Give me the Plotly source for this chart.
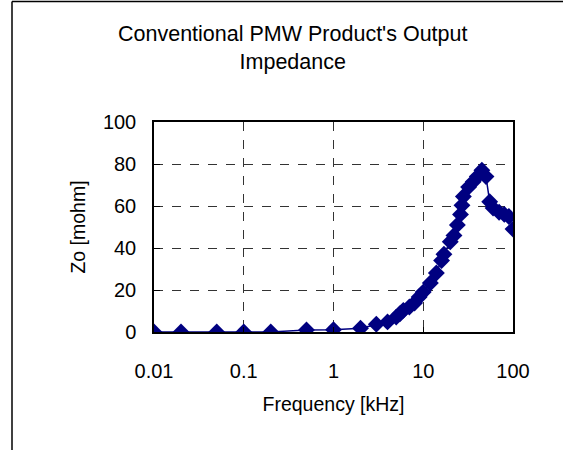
import plotly.graph_objects as go

freq_khz = [0.01, 0.02, 0.05, 0.1, 0.2, 0.5, 1, 2, 3, 4, 5, 5.5, 6, 7, 8, 9, 10,
            12, 14, 16, 17, 20, 22, 24, 26, 27, 28, 32, 36, 40, 45, 50, 55, 60,
            70, 80, 90, 100]
zo_mohm = [0, 0, 0, 0, 0, 1.0, 1.1, 1.8, 3.7, 4.8, 7.1, 8.7, 10.3, 11.9, 13.8, 16.7, 19.0,
           23.3, 28.1, 34.0, 37.0, 43.0, 46.0, 51.0, 56.0, 60.3, 64.5, 69.0, 71.5, 74.0, 77.0, 74.0, 62.0, 59.0,
           57.0, 56.0, 55.0, 49.0]
x_tickvals = [0.01, 0.1, 1, 10, 100]
x_ticktext = ["0.01", "0.1", "1", "10", "100"]
y_tickvals = [0, 20, 40, 60, 80, 100]

FONT = "Liberation Sans, Arial, sans-serif"
NAVY = "#000080"

fig = go.Figure()
fig.add_trace(go.Scatter(
    x=freq_khz, y=zo_mohm, mode="lines+markers",
    line=dict(color=NAVY, width=1.5),
    marker=dict(symbol="diamond", size=13, color=NAVY),
    showlegend=False,
))

fig.update_layout(
    width=563, height=450,
    margin=dict(l=154, r=50, t=122, b=118),
    paper_bgcolor="white", plot_bgcolor="white",
    font=dict(family=FONT, size=19, color="black"),
    title=dict(text="Conventional PMW Product's Output<br>Impedance",
               x=0.52, xref="container", xanchor="center",
               y=1 - 41 / 450, yref="container", yanchor="top",
               font=dict(family=FONT, size=21.5, color="black")),
    xaxis=dict(type="log", range=[-2, 2], tickvals=x_tickvals, ticktext=x_ticktext,
               showline=True, linecolor="black", linewidth=1.5, mirror=True,
               ticks="inside", ticklen=5, tickcolor="black",
               showgrid=True, gridcolor="#333333", griddash="dash", gridwidth=1,
               zeroline=False, ticklabelstandoff=20,
               title=dict(text="Frequency [kHz]", standoff=17, font=dict(size=19.5)),
               tickfont=dict(size=20)),
    yaxis=dict(range=[0, 100], tickvals=y_tickvals,
               showline=True, linecolor="black", linewidth=1.5, mirror=True,
               ticks="inside", ticklen=6, tickcolor="black",
               showgrid=True, gridcolor="#333333", griddash="dash", gridwidth=1,
               zeroline=False, ticklabelstandoff=12,
               title=dict(text="Zo [mohm]", standoff=12, font=dict(size=19.5)),
               tickfont=dict(size=20)),
    shapes=[
        dict(type="line", xref="paper", yref="paper",
             x0=(12 - 154) / 359, x1=(12 - 154) / 359, y0=-0.7, y1=(332 - 1.5) / 210,
             line=dict(color="black", width=1.5)),
        dict(type="line", xref="paper", yref="paper",
             x0=(12 - 154) / 359, x1=1.3, y0=(332 - 1.5) / 210, y1=(332 - 1.5) / 210,
             line=dict(color="black", width=1.5)),
    ],
)

fig.write_html("out.html", config={"displayModeBar": False},
               post_script="document.body.style.margin='0';")
